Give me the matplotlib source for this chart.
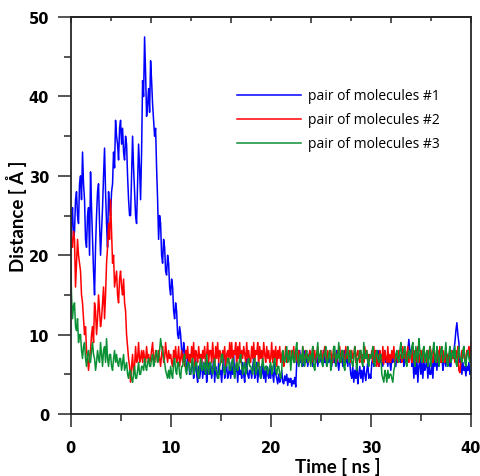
import numpy as np
import matplotlib.pyplot as plt
from matplotlib.ticker import MultipleLocator

time_step = 0.1

pair1 = [
    20, 24, 26, 22, 23, 27, 28, 25, 24, 29, 30, 27, 33, 29, 27, 22, 21, 25, 26, 20,
    30.5, 26, 22, 18, 15, 21, 25, 28, 29, 24, 20, 23, 26, 30, 33.5, 28, 24, 21, 28, 26,
    25, 28, 29, 33, 31, 37, 35, 34, 32, 36, 37, 34, 36, 33, 32, 35, 34, 30, 27, 25,
    25, 30, 35, 31, 28, 25, 24, 29, 34, 31, 27, 33, 42, 40, 47.5, 43, 37.5, 39, 41, 38,
    44.5, 42, 39, 37, 35, 36, 31, 27, 22, 25, 24, 20, 19, 22, 21, 18, 17.5, 20, 19, 16,
    15, 17, 16, 13, 12, 14, 13, 10, 9.5, 11, 10, 8, 7, 9, 8, 6, 5.5, 7.5, 7, 5,
    5, 6, 6.5, 4.5, 5.5, 7, 5, 4, 6, 4.5, 5.5, 7, 4.5, 6, 5, 7, 4, 5.5, 6.5, 5,
    6, 4.5, 5.5, 7, 4, 6, 5, 4.5, 6.5, 5, 5.5, 4, 6, 7, 4.5, 5.5, 6, 4.5, 5, 6.5,
    4.5, 6, 5, 7.5, 4.5, 5.5, 6.5, 4, 6, 5, 5.5, 4.5, 6.5, 5, 4, 6, 7, 5, 4.5, 5.5,
    5.5, 4.5, 6, 7, 4.5, 5, 6.5, 4, 5.5, 6, 4.5, 5, 6.5, 4.5, 5.5, 4, 6, 5, 4.5, 6,
    4.5, 6, 5, 4, 6.5, 5, 4.5, 3.8, 5, 4, 4.5, 5.5, 4, 3.8, 4.8, 4.2, 5, 3.6, 4.5, 4,
    4.5, 3.5, 4.2, 3.8, 4.6, 3.4, 6.5, 7.5, 6, 8, 6.5, 7, 6, 8, 7, 6.5, 7.5, 6, 7, 8,
    6.5, 7.5, 6, 8, 7, 6.5, 7.5, 6, 7, 6.5, 7, 7.5, 6, 8, 6.5, 7, 6, 7.5, 6.5, 7,
    7, 6, 7.5, 6.5, 7, 6, 8, 6.5, 5.5, 7, 6.5, 7.5, 6, 7, 8, 6.5, 7, 6, 7.5, 6.5,
    5, 4.5, 6, 4, 5.5, 4.5, 6.5, 3.8, 5, 6, 4.5, 5.5, 4, 6, 5, 4.2, 5.5, 6.5, 4.5, 5,
    4.5, 6.5, 7, 6, 7.5, 6.5, 7, 8, 6, 7, 6.5, 7.5, 6, 7, 8, 6.5, 7, 6, 7.5, 6.5,
    5.5, 7, 6.5, 8, 7, 6, 7.5, 6.5, 7, 7.5, 6.5, 7, 8, 6, 7, 6.5, 7.5, 8, 9.4, 8,
    8, 6, 7, 4.5, 6.5, 5, 7, 4, 6, 7, 5, 6.5, 4.5, 7, 5.5, 6, 7, 4.5, 6.5, 5,
    5, 6.5, 4.5, 7, 6, 7.5, 5.5, 7, 6, 7, 6.5, 7.5, 5.5, 6.5, 7, 6, 7.5, 6.5, 7, 6,
    6, 7.5, 7, 8, 9, 10.5, 11.5, 10, 9, 6.5, 7, 5, 6.5, 5.5, 6, 4.8, 6, 5.5, 6.5, 5,
    5.5,
]

pair2 = [
    24, 22, 21, 23, 22, 16, 19, 22, 20, 19, 18, 15, 14, 12, 10, 11, 8, 7, 5.5, 7,
    8, 10, 11, 9, 14, 13, 10, 12, 15, 13, 11, 12, 14, 16, 12, 15, 19, 21, 24, 22,
    27, 23, 19, 20, 16, 17, 18, 15, 14, 17, 18, 16, 15, 17, 14, 13, 10, 8.5, 7, 6,
    4, 6, 7.5, 5, 6, 8.5, 6.5, 7, 9, 6.5, 7, 8, 6.5, 8, 7, 6.5, 8.5, 7, 7.5, 6.5,
    7, 8, 9, 7, 6.5, 8, 7.5, 6.5, 8, 7, 6, 7.5, 8.5, 6.5, 7, 9, 7.5, 6.5, 8, 7,
    7.5, 6.5, 6, 8, 7, 8.5, 6.5, 7, 8.5, 6, 7, 8, 6.5, 7.5, 6, 8, 7, 8.5, 6.5, 7.5,
    6.5, 8.5, 7, 9, 6, 8, 7.5, 6.5, 8.5, 7, 7.5, 6.5, 8, 7, 8.5, 6.5, 7.5, 9, 6.5, 8,
    8, 6.5, 9, 7, 6, 8.5, 7, 9, 6.5, 8, 7.5, 6.5, 8, 7, 8.5, 6, 7.5, 8, 6.5, 9,
    7, 9, 6.5, 8, 7.5, 9, 6, 8.5, 7, 9, 6.5, 8, 7, 8.5, 7.5, 6.5, 9, 7, 8, 6.5,
    6.5, 8.5, 7, 9, 6.5, 8, 7.5, 9, 6, 8.5, 7, 8, 6.5, 9, 7.5, 6.5, 8.5, 7, 8, 6.5,
    7, 9, 6.5, 8, 7, 8.5, 6, 8, 7, 8.5, 6.5, 7.5, 8, 6, 7, 8.5, 6.5, 7.5, 8, 7,
    6.5, 8, 7, 8.5, 6.5, 8, 7, 6.5, 8, 7, 7.5, 6.5, 8.5, 7, 6.5, 8, 7, 7.5, 6.5, 8,
    7.5, 6.5, 8.5, 7, 8, 6.5, 7.5, 8.5, 6.5, 7.5, 7, 8, 6.5, 7.5, 8.5, 7, 6.5, 8, 7, 7.5,
    8, 7, 6.5, 8.5, 7, 7.5, 6.5, 8, 7, 8.5, 6.5, 7.5, 8, 7, 6.5, 8.5, 7, 7.5, 6.5, 8,
    6.5, 8, 7, 7.5, 8.5, 6.5, 7.5, 8, 7, 6.5, 8, 7, 7.5, 6.5, 8.5, 7, 8, 6.5, 7.5, 7,
    7, 8, 6.5, 8.5, 7, 8, 6, 7.5, 6, 8, 7, 6.5, 8.5, 6.3, 8, 7, 6.5, 8.5, 6.5, 7.5,
    6.5, 8, 7, 8.5, 6.5, 7.5, 7, 6.5, 8, 7, 7.5, 6.5, 8.5, 7, 8, 6.5, 7.5, 8.5, 6.5, 7.5,
    7.5, 6.5, 8.5, 7, 8, 6.5, 7.5, 8.5, 6.5, 7.5, 8, 7, 6.5, 8.5, 7, 7.5, 6.5, 8, 7, 8.5,
    8, 7, 6.5, 8.5, 7, 7.5, 6.5, 8, 7, 8.5, 6.5, 7.5, 8, 7, 6.5, 8.5, 7, 7.5, 6.5, 8,
    6.5, 8, 7, 7.5, 6.5, 8, 7, 8.5, 5.5, 5.2, 6.5, 8, 7, 8.5, 7, 6.5, 8, 7.5, 8.5, 7,
    9,
]

pair3 = [
    20, 15, 12, 13.6, 14, 11, 10.5, 12, 9, 10, 10, 8, 7, 8.5, 9, 7, 6, 7.5, 8, 6.5,
    6.5, 8, 9, 7.5, 7, 5.5, 6.5, 8, 7, 6.5, 9, 7.5, 6, 8, 8.5, 6.5, 9.5, 7, 6, 7.5,
    7.5, 6, 5.5, 7, 8, 6.5, 7.5, 6.5, 6, 7, 7, 5.5, 6.5, 7.5, 5.5, 6, 6.5, 5, 4.5, 5.5,
    5.5, 4.5, 4, 5, 6, 4.5, 4.5, 5.5, 6.5, 5, 5, 6, 6, 5.5, 7, 6, 5.5, 6.5, 7, 6,
    6, 7, 7.5, 6, 6.5, 7.5, 8, 6.5, 7, 8, 9.5, 8.5, 8, 7, 6.5, 5.5, 5, 4.5, 5.5, 4.5,
    6, 5, 4.5, 6.5, 7, 5.5, 5, 6.5, 6.5, 5, 4.5, 6, 6, 7, 7.5, 5.5, 5, 6.5, 6.5, 5.5,
    5, 6.5, 7, 5, 5.5, 6.5, 6.5, 5, 4.5, 6, 7, 5.5, 5.5, 6.5, 6, 5, 7.5, 6, 5, 6.5,
    6.5, 5.5, 5, 6, 7, 5.5, 5.5, 4.5, 4.5, 6, 6.5, 7.5, 7.5, 5.5, 5, 6, 6, 7, 7, 5.5,
    5.5, 6.5, 7, 5.5, 4.5, 6, 6.5, 5.5, 6, 7, 7.5, 6, 5, 6, 6.5, 5, 5.5, 6.5, 7, 6,
    6, 5.5, 5, 6.5, 7, 5, 5.5, 6.5, 6.5, 5, 4.5, 6, 7, 6, 5.5, 6, 6, 5, 5.5, 6,
    6.5, 5, 5.5, 6.5, 7, 5.5, 5, 6, 6, 5, 4.5, 5.5, 8, 7, 6.5, 7.5, 8.5, 6.5, 7, 8,
    5.5, 7, 8, 6.5, 6.5, 8, 9, 7, 6, 7.5, 7.5, 6, 8.5, 7, 6, 7.5, 8, 6.5, 7, 7.5,
    6, 7.5, 8.5, 6, 5.5, 7, 7.5, 9, 6.5, 7, 8, 6.5, 6, 7.5, 7.5, 8.5, 6, 6.5, 7.5, 8,
    5.5, 6.5, 7, 8.5, 8.5, 6, 7.5, 7, 9, 6.5, 6.5, 8, 8, 6, 5.5, 7.5, 7.5, 8.5, 6.5, 7,
    8, 6.5, 6, 7, 8.5, 7.5, 5.5, 7, 7, 8, 8, 6.5, 6, 9, 7, 7, 8, 6.5, 6, 7.5,
    7, 7.5, 8.5, 6.5, 6, 7.5, 8, 7, 6.5, 7.5, 7.5, 5, 4.5, 4, 5.5, 5, 4, 5.5, 4.5, 5,
    5, 4.5, 4, 5.5, 6, 7.5, 8, 7, 6.5, 8, 9, 7, 7, 8, 8.5, 6.5, 6, 7.5, 8, 7,
    7.5, 8.5, 9, 7, 6, 8.5, 7.5, 6.5, 9.5, 8, 7, 6.5, 8, 8.5, 6.5, 7.5, 8, 6, 7, 8.5,
    6, 7.5, 8, 9, 7, 6.5, 8.5, 7.5, 6, 7, 8, 8.5, 6.5, 7, 7.5, 9, 6.5, 6, 7.5, 8.5,
    6.5, 7.5, 8, 7, 8.5, 6.5, 6, 7.5, 8.5, 7, 7, 6.5, 8, 8.5, 6.5, 6, 7.5, 8, 7, 6.5,
    7.5,
]

labels = ["pair of molecules #1", "pair of molecules #2", "pair of molecules #3"]
colors = ["#0000ff", "#ff0000", "#0a9035"]

fig = plt.figure(figsize=(4.81, 4.77), dpi=100)
ax = fig.add_axes([0.1466, 0.130, 0.8324, 0.832])

for values, label, color in zip([pair1, pair2, pair3], labels, colors):
    time = np.arange(len(values)) * time_step
    ax.plot(time, values, c=color, lw=1.1, label=label)

ax.set_xlim(0, 40)
ax.set_ylim(0, 50)
ax.xaxis.set_major_locator(MultipleLocator(10))
ax.xaxis.set_minor_locator(MultipleLocator(5))
ax.yaxis.set_major_locator(MultipleLocator(10))
ax.yaxis.set_minor_locator(MultipleLocator(5))

edge = "#262626"
for spine in ax.spines.values():
    spine.set_linewidth(1.3)
    spine.set_color(edge)
ax.tick_params(which="major", direction="out", length=9.4, width=1.1, color=edge,
               labelsize=10.5)
ax.tick_params(axis="x", which="major", pad=9)
ax.tick_params(axis="y", which="major", pad=6)
ax.tick_params(which="minor", direction="out", length=4.7, width=1.1, color=edge)
for lbl in ax.get_xticklabels() + ax.get_yticklabels():
    lbl.set_fontweight("bold")

top = ax.secondary_xaxis("top")
top.xaxis.set_major_locator(MultipleLocator(8))
top.xaxis.set_minor_locator(MultipleLocator(4))
top.tick_params(which="major", direction="in", length=4.3, width=1.1, color=edge, labeltop=False)
top.tick_params(which="minor", direction="in", length=3, width=1.1, color=edge)
top.spines["top"].set_linewidth(1.3)
top.spines["top"].set_color(edge)

ax.set_xlabel("Time [ ns ]", fontweight="bold", fontsize=13.5, family="Lato")
ax.set_ylabel("Distance [ Å ]", fontweight="bold", fontsize=13.5, family="Lato")
ax.xaxis.set_label_coords(0.668, -0.131)
ax.yaxis.set_label_coords(-0.134, 0.5)
ax.xaxis.label.set_va("center")
ax.yaxis.label.set_va("center")

ax.legend(loc="upper left", bbox_to_anchor=(0.385, 0.852), frameon=False,
          handlelength=4.6, handletextpad=0.5, labelspacing=0.65,
          prop={"family": "Open Sans", "size": 10})

fig.savefig("out.png", dpi=100)
